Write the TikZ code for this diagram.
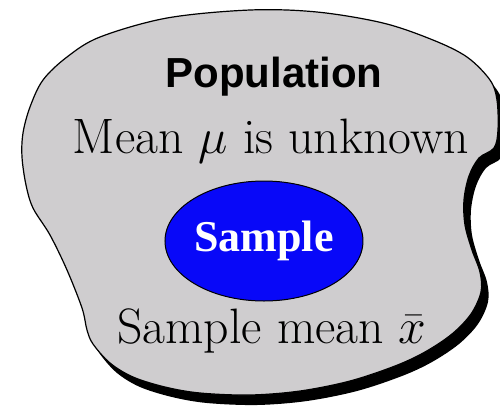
\documentclass[tikz,border=0pt]{standalone}
\usepackage{fontspec}
\newfontfamily\headfont{Liberation Sans}
\newfontfamily\samplefont{Liberation Serif}
\usetikzlibrary{shapes.geometric}
\definecolor{popGray}{RGB}{207,205,207}
\definecolor{sampleBlue}{RGB}{8,8,248}
\tikzset{
  blob/.style={fill=popGray, draw=black, line width=0.6pt},
  blobshadow/.style={fill=black},
  titletext/.style={font=\headfont\bfseries\fontsize{21}{25}\selectfont, anchor=base, inner sep=0pt},
  bodytext/.style={font=\Huge, anchor=base, inner sep=0pt},
  samplebox/.style={ellipse, draw=black, fill=sampleBlue, line width=0.5pt, minimum width=99pt, minimum height=60pt, inner sep=0pt, text=white, font=\samplefont\bfseries\fontsize{22}{26}\selectfont}
}
\newcommand{\popoutline}{plot[smooth cycle, tension=0.55] coordinates {
  (250,10) (317,12) (383,23) (433,40) (467,57) (490,80) (497,100) (498,130)
  (494,148) (479,158) (469,176) (464,200) (465,225) (472,250) (480,272)
  (481,292) (471,314) (452,334) (425,352) (395,366) (350,381) (300,391)
  (250,395) (200,393) (165,387) (133,377) (110,363) (93,344) (87,330)
  (82,308) (67,270) (50,235) (33,208) (26,185) (22,157) (23,133)
  (30,107) (43,80) (67,57) (100,37) (167,18)}}

\begin{document}
\begin{tikzpicture}[x=0.5pt, y=-0.5pt]
  \useasboundingbox (0,0) rectangle (500,409);
  \clip (0,0) rectangle (500,409);
  % population blob with its shadow
  \fill[blobshadow, shift={(7,10)}] \popoutline;
  \path[blob] \popoutline;

  \node[titletext] (poptitle) at (274,87) {Population};
  \node[bodytext] (meantext) at (271,153) {Mean $\mu$ is unknown};
  \node[samplebox] (sample) at (264,241) {Sample};
  \node[bodytext] (samplemean) at (272,343) {Sample mean $\bar{x}$};
\end{tikzpicture}
\end{document}
